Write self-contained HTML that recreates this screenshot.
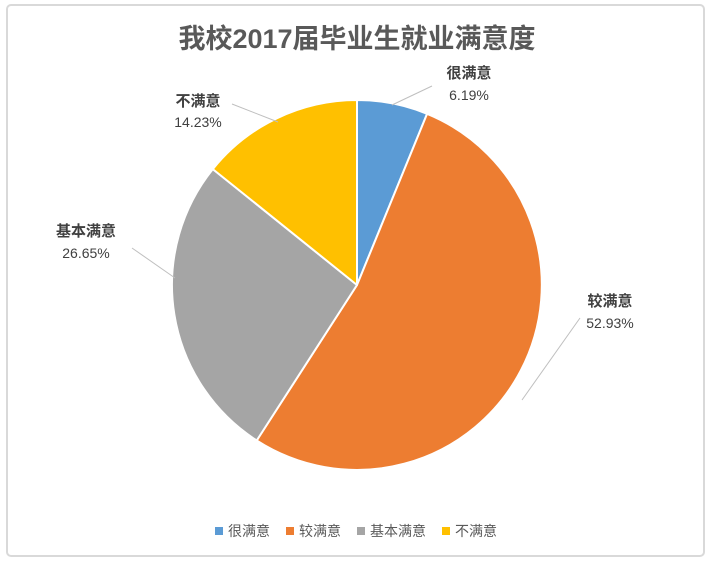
<!DOCTYPE html>
<html><head><meta charset="utf-8"><style>
body{margin:0;background:#fff;width:710px;height:562px;overflow:hidden}
svg text{font-family:"Liberation Sans","Noto Sans CJK SC",sans-serif}
</style></head><body>
<svg width="710" height="562" xmlns="http://www.w3.org/2000/svg">
<rect x="7" y="5" width="697" height="551" rx="4" fill="#fff" stroke="#d9d9d9" stroke-width="2"/>
<text x="357" y="48" text-anchor="middle" font-size="27" font-weight="bold" fill="#595959">我校2017届毕业生就业满意度</text>
<g stroke="#fff" stroke-width="2" stroke-linejoin="round">
<path d="M357,285 L357,100 A185,185 0 0 1 427.1,113.8 Z" fill="#5b9bd5"/>
<path d="M357,285 L427.1,113.8 A185,185 0 1 1 256.7,440.5 Z" fill="#ed7d31"/>
<path d="M357,285 L256.7,440.5 A185,185 0 0 1 212.8,169.1 Z" fill="#a5a5a5"/>
<path d="M357,285 L212.8,169.1 A185,185 0 0 1 357,100 Z" fill="#ffc000"/>
</g>
<g stroke="#bfbfbf" stroke-width="1" fill="none">
<polyline points="392,105 432,86"/>
<polyline points="278,122 232,104"/>
<polyline points="175,278 132,248"/>
<polyline points="522,400 580,318"/>
</g>
<g font-size="15" font-weight="bold" fill="#404040" text-anchor="middle">
<text x="469" y="78">很满意</text><text x="469" y="100" font-weight="normal" font-size="14">6.19%</text>
<text x="198" y="106">不满意</text><text x="198" y="127" font-weight="normal" font-size="14">14.23%</text>
<text x="86" y="236">基本满意</text><text x="86" y="258" font-weight="normal" font-size="14">26.65%</text>
<text x="610" y="306">较满意</text><text x="610" y="328" font-weight="normal" font-size="14">52.93%</text>
</g>
<g font-size="14" fill="#595959">
<rect x="215" y="527" width="8" height="8" fill="#5b9bd5"/><text x="228" y="536">很满意</text>
<rect x="286" y="527" width="8" height="8" fill="#ed7d31"/><text x="299" y="536">较满意</text>
<rect x="357" y="527" width="8" height="8" fill="#a5a5a5"/><text x="370" y="536">基本满意</text>
<rect x="442" y="527" width="8" height="8" fill="#ffc000"/><text x="455" y="536">不满意</text>
</g>
</svg>
</body></html>
